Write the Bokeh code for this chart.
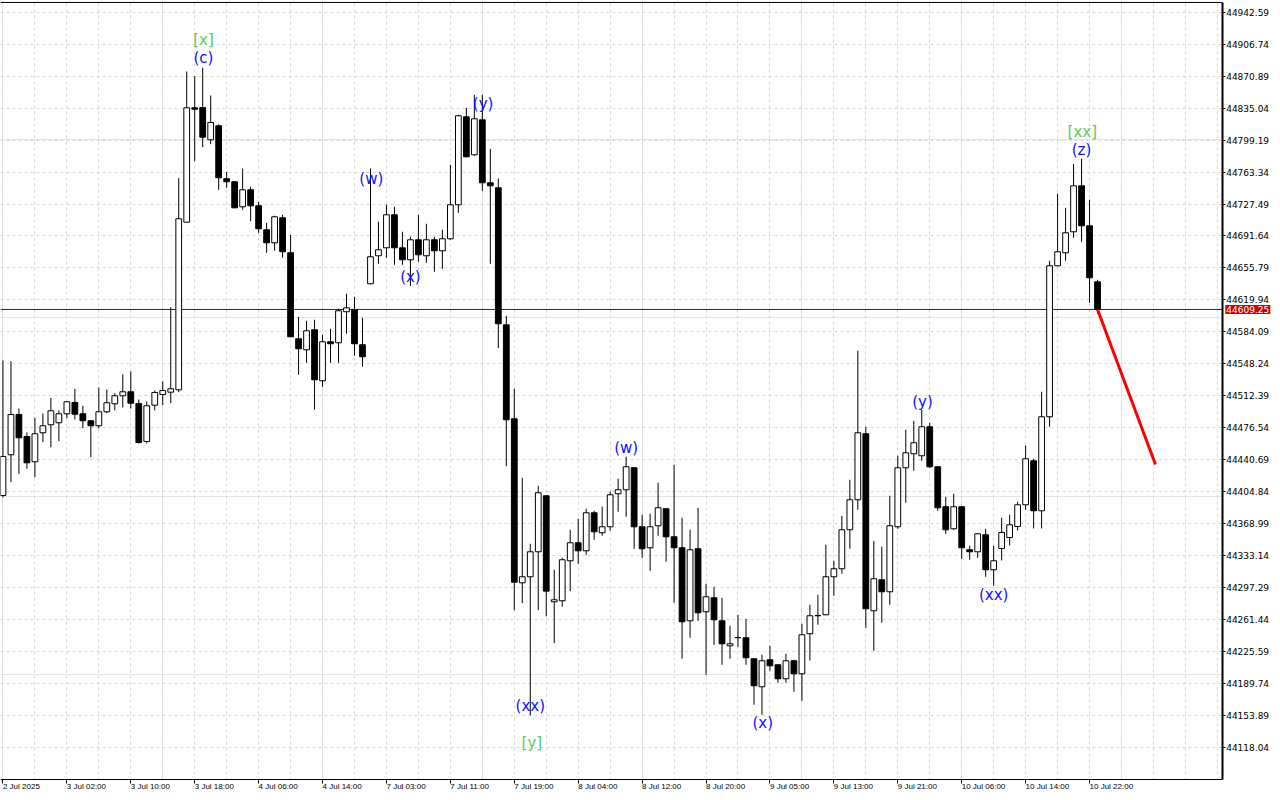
from bokeh.plotting import figure
from bokeh.models import (Range1d, FixedTicker, Label, ColumnDataSource,
                          NumeralTickFormatter, LinearAxis, Grid)
from bokeh.core.properties import value
from bokeh.embed import file_html
from bokeh.resources import INLINE

# ---- hourly OHLC (US30-like index), 2 Jul 2025 .. 10 Jul 23:00 ----
opens = [
    44400.67, 44446.30, 44491.49, 44466.82, 44438.45, 44470.97, 44479.94, 44482.18, 44492.28, 44504.95,
    44492.28, 44484.43, 44478.82, 44494.52, 44503.49, 44512.46, 44516.95, 44503.83, 44461.22, 44501.92,
    44513.92, 44516.50, 44519.19, 44707.12, 44835.39, 44835.73, 44799.51, 44815.21, 44755.78, 44752.42,
    44724.39, 44743.45, 44725.51, 44698.60, 44684.02, 44712.05, 44672.81, 44576.37, 44564.04, 44586.47,
    44529.28, 44573.01, 44571.89, 44606.65, 44608.89, 44569.65, 44638.05, 44669.44, 44678.41, 44715.41,
    44678.41, 44664.96, 44687.38, 44669.44, 44687.38, 44675.05, 44688.50, 44726.63, 44825.30, 44782.69,
    44821.94, 44751.30, 44745.69, 44592.07, 44486.67, 44302.78, 44309.51, 44337.54, 44400.33, 44281.47,
    44282.59, 44327.45, 44347.63, 44338.66, 44381.27, 44358.84, 44365.57, 44402.57, 44407.06, 44431.73,
    44365.57, 44342.02, 44366.69, 44385.75, 44354.36, 44342.02, 44260.17, 44340.90, 44270.26, 44285.96,
    44260.17, 44232.13, 44241.11, 44241.11, 44217.56, 44186.16, 44216.44, 44210.83, 44195.13, 44215.31,
    44200.74, 44245.59, 44265.77, 44266.90, 44309.51, 44318.47, 44362.21, 44395.85, 44469.85, 44271.38,
    44306.14, 44292.68, 44365.57, 44431.73, 44447.42, 44445.18, 44477.70, 44432.85, 44388.00, 44363.33,
    44388.00, 44339.78, 44337.54, 44356.60, 44317.35, 44341.24, 44353.57, 44365.91, 44390.24, 44439.58,
    44383.51, 44488.91, 44658.23, 44672.81, 44696.35, 44747.93, 44703.08, 44640.29,
]
highs = [
    44552.04, 44551.26, 44498.22, 44471.31, 44487.79, 44492.61, 44510.22, 44495.98, 44506.50, 44520.31,
    44501.25, 44485.00, 44521.77, 44519.52, 44515.38, 44536.34, 44539.71, 44508.31, 44506.07, 44518.40,
    44528.49, 44611.81, 44756.45, 44876.10, 44870.83, 44880.25, 44849.19, 44816.67, 44763.63, 44753.00,
    44767.33, 44746.81, 44729.99, 44706.45, 44714.29, 44715.41, 44692.99, 44601.04, 44596.56, 44597.68,
    44580.86, 44587.58, 44610.01, 44626.83, 44623.47, 44599.92, 44767.33, 44707.57, 44726.63, 44724.39,
    44696.35, 44690.75, 44715.41, 44705.32, 44690.75, 44698.60, 44771.48, 44827.55, 44835.39, 44849.97,
    44849.97, 44789.42, 44756.12, 44602.16, 44520.31, 44420.51, 44346.51, 44411.54, 44400.80, 44317.35,
    44330.81, 44362.21, 44374.54, 44385.75, 44383.51, 44388.00, 44404.81, 44419.39, 44444.06, 44432.20,
    44379.03, 44380.15, 44414.91, 44386.20, 44435.09, 44375.66, 44362.21, 44386.87, 44301.66, 44298.29,
    44285.96, 44254.56, 44266.89, 44262.41, 44218.00, 44222.04, 44232.13, 44211.30, 44223.16, 44216.44,
    44256.80, 44278.11, 44289.32, 44345.39, 44327.45, 44377.90, 44418.27, 44562.92, 44477.70, 44349.87,
    44343.14, 44400.33, 44445.18, 44474.34, 44484.43, 44496.76, 44482.18, 44433.30, 44399.21, 44402.57,
    44388.50, 44344.27, 44358.20, 44363.33, 44344.27, 44375.66, 44379.03, 44393.60, 44456.73, 44441.82,
    44516.95, 44663.84, 44738.96, 44723.26, 44772.60, 44778.21, 44732.24, 44642.53,
]
lows = [
    44398.42, 44415.58, 44425.00, 44430.60, 44421.19, 44460.43, 44454.82, 44461.55, 44487.34, 44485.89,
    44476.13, 44443.61, 44475.79, 44492.95, 44495.98, 44499.34, 44498.22, 44458.97, 44458.97, 44495.98,
    44501.92, 44504.16, 44516.50, 44706.60, 44775.52, 44791.22, 44794.58, 44743.45, 44745.69, 44722.80,
    44721.02, 44708.24, 44695.23, 44672.81, 44675.05, 44667.20, 44578.10, 44536.01, 44549.46, 44496.76,
    44522.55, 44549.46, 44549.46, 44581.98, 44557.31, 44544.98, 44637.50, 44660.47, 44667.20, 44659.35,
    44659.35, 44635.80, 44662.71, 44661.59, 44651.50, 44654.86, 44687.50, 44717.66, 44780.00, 44781.57,
    44742.33, 44660.47, 44565.83, 44433.52, 44272.05, 44279.90, 44153.98, 44272.05, 44265.33, 44235.05,
    44275.87, 44293.36, 44324.08, 44334.18, 44350.99, 44355.48, 44361.08, 44382.39, 44376.78, 44340.90,
    44330.81, 44316.23, 44355.48, 44326.32, 44280.35, 44217.56, 44241.11, 44260.17, 44199.62, 44233.25,
    44210.83, 44217.56, 44231.01, 44210.83, 44165.98, 44154.77, 44204.10, 44190.64, 44190.64, 44180.56,
    44170.46, 44215.65, 44255.68, 44266.40, 44288.20, 44312.86, 44340.90, 44384.63, 44252.32, 44226.53,
    44257.93, 44278.11, 44363.33, 44392.48, 44428.36, 44439.58, 44431.73, 44383.51, 44357.71, 44362.21,
    44329.69, 44328.57, 44330.81, 44309.51, 44299.41, 44327.78, 44344.60, 44361.42, 44384.63, 44363.66,
    44363.66, 44477.70, 44657.70, 44663.84, 44689.63, 44685.14, 44616.74, 44604.41,
]
closes = [
    44444.40, 44491.49, 44465.37, 44437.33, 44469.85, 44478.82, 44495.64, 44492.28, 44505.73, 44491.83,
    44484.43, 44478.82, 44494.52, 44504.61, 44512.46, 44516.95, 44504.16, 44460.10, 44501.25, 44516.16,
    44518.40, 44520.31, 44710.93, 44835.39, 44833.82, 44802.43, 44818.91, 44756.90, 44752.42, 44723.26,
    44743.45, 44725.51, 44699.72, 44684.02, 44713.17, 44673.93, 44578.62, 44565.16, 44585.34, 44530.40,
    44573.01, 44570.77, 44607.77, 44611.13, 44570.77, 44556.19, 44668.32, 44676.17, 44715.41, 44678.41,
    44664.96, 44687.38, 44670.56, 44687.38, 44675.05, 44688.50, 44726.63, 44826.42, 44780.45, 44823.06,
    44751.30, 44747.93, 44593.19, 44485.55, 44303.45, 44309.51, 44337.54, 44403.69, 44293.36, 44283.71,
    44328.57, 44347.63, 44338.66, 44381.27, 44359.96, 44365.57, 44401.45, 44407.06, 44432.85, 44365.57,
    44340.90, 44365.57, 44386.87, 44354.36, 44342.02, 44259.05, 44339.78, 44269.14, 44287.08, 44261.29,
    44234.38, 44234.38, 44241.40, 44218.68, 44187.28, 44215.31, 44209.71, 44195.13, 44215.31, 44200.74,
    44244.47, 44265.77, 44266.11, 44309.51, 44318.47, 44362.21, 44395.85, 44470.97, 44273.62, 44307.26,
    44292.68, 44366.69, 44431.73, 44448.55, 44459.76, 44477.70, 44432.85, 44386.87, 44362.21, 44388.00,
    44342.02, 44337.54, 44357.72, 44317.35, 44327.45, 44359.18, 44367.81, 44390.24, 44441.82, 44383.51,
    44488.91, 44658.23, 44673.93, 44695.23, 44747.93, 44703.08, 44644.77, 44609.25,
]

date_tick_idx = [0, 8, 16, 24, 32, 40, 48, 56, 64, 72, 80, 88, 96, 104, 112, 120, 128, 136]
date_labels = ["2 Jul 2025", "3 Jul 02:00", "3 Jul 10:00", "3 Jul 18:00", "4 Jul 06:00",
               "4 Jul 14:00", "7 Jul 03:00", "7 Jul 11:00", "7 Jul 19:00", "8 Jul 04:00",
               "8 Jul 12:00", "8 Jul 20:00", "9 Jul 05:00", "9 Jul 13:00", "9 Jul 21:00",
               "10 Jul 06:00", "10 Jul 14:00", "10 Jul 22:00"]

price_ticks = [44118.04, 44153.89, 44189.74, 44225.59, 44261.44, 44297.29, 44333.14, 44368.99,
               44404.84, 44440.69, 44476.54, 44512.39, 44548.24, 44584.09, 44619.94, 44655.79,
               44691.64, 44727.49, 44763.34, 44799.19, 44835.04, 44870.89, 44906.74, 44942.59]

current_price = 44609.25

# forecast (red) line
projection_idx = [137, 144.25]
projection_price = [44609.25, 44435.4]

# Elliott-wave annotations
wave_text = ["[x]", "(c)", "(w)", "(x)", "(y)", "(xx)", "[y]", "(w)", "(x)", "(y)", "(xx)", "[xx]", "(z)"]
wave_idx = [25.1, 25.1, 46.1, 51.0, 60.1, 66.0, 66.2, 78.0, 95.1, 115.1, 124.0, 135.1, 135.0]
wave_price = [44910.9, 44890.7, 44756.1, 44645.1, 44839.1, 44164.1, 44122.6, 44453.4, 44145.0,
              44506.0, 44289.6, 44808.8, 44787.5]
wave_degree = ["major", "minor", "minor", "minor", "minor", "minor", "major", "minor", "minor",
               "minor", "minor", "major", "minor"]

GREEN = "#5acd5a"
BLUE = "#1010ff"

# chart window geometry (data units): candle index across, price up
X_LEFT, X_AXIS, X_RIGHT = -0.307, 152.6, 158.9
Y_BOTTOM, Y_AXIS, Y_TOP_LINE, Y_TOP = 44067.6, 44082.2, 44953.5, 44955.7
Y_DATE_TEXT = 44073.8

idx = list(range(len(opens)))
tops = [max(o, c) for o, c in zip(opens, closes)]
bottoms = [min(o, c) for o, c in zip(opens, closes)]
fills = ["white" if c >= o else "black" for o, c in zip(opens, closes)]
src = ColumnDataSource(dict(i=idx, high=highs, low=lows, top=tops, bottom=bottoms, fill=fills))

p = figure(width=1272, height=792, output_backend="svg", toolbar_location=None,
           x_range=Range1d(X_LEFT, X_RIGHT), y_range=Range1d(Y_BOTTOM, Y_TOP),
           x_axis_location=None, y_axis_location=None, min_border=0)
p.outline_line_color = None
p.background_fill_color = "white"
p.border_fill_color = "white"

# grid (dashed light grey)
xg = Grid(dimension=0, ticker=FixedTicker(ticks=list(range(0, 160, 4))),
          grid_line_color="#d9d9d9", grid_line_dash="3 3", grid_line_width=1)
yg = Grid(dimension=1, ticker=FixedTicker(ticks=price_ticks),
          grid_line_color="#d9d9d9", grid_line_dash="3 3", grid_line_width=1)
p.add_layout(xg)
p.add_layout(yg)

# keep the margins (price scale / time scale area) clean of grid
p.quad(left=[X_AXIS], right=[X_RIGHT], bottom=[Y_BOTTOM], top=[Y_TOP],
       fill_color="white", line_color=None)
p.quad(left=[X_LEFT], right=[X_RIGHT], bottom=[Y_BOTTOM], top=[Y_AXIS],
       fill_color="white", line_color=None)
# top frame border
p.segment(x0=[X_LEFT], y0=[Y_TOP_LINE], x1=[X_AXIS], y1=[Y_TOP_LINE], line_color="black", line_width=1)

# current price line
p.segment(x0=[X_LEFT], y0=[current_price], x1=[X_AXIS], y1=[current_price],
          line_color="#8b0000", line_width=1)

# candles
p.segment(x0="i", y0="low", x1="i", y1="high", source=src, line_color="black", line_width=1)
p.vbar(x="i", width=0.72, top="top", bottom="bottom", fill_color="fill",
       line_color="black", line_width=1, source=src)

# forecast line
p.line(projection_idx, projection_price, line_color="#ff0000", line_width=3)

# wave labels
wcol = [GREEN if d == "major" else BLUE for d in wave_degree]
p.text(x=wave_idx, y=wave_price, text=wave_text, text_color=wcol,
       text_font=value("DejaVu Sans"), text_font_size="15px",
       text_align="center", text_baseline="middle")

# price scale on the right (fixed inside the window)
ya = LinearAxis(fixed_location=X_AXIS, ticker=FixedTicker(ticks=price_ticks),
                formatter=NumeralTickFormatter(format="0.00"), bounds=(Y_AXIS, Y_TOP_LINE))
ya.major_label_text_font = "DejaVu Sans"
ya.major_label_text_font_size = "9px"
ya.major_label_text_color = "black"
ya.major_label_standoff = 1
ya.major_tick_in = 0
ya.major_tick_out = 3
ya.minor_tick_line_color = None
ya.axis_line_color = "black"
ya.axis_line_width = 2
p.add_layout(ya, "right")

# time scale at the bottom (ticks; labels left-aligned as text annotations)
xa = LinearAxis(fixed_location=Y_AXIS, ticker=FixedTicker(ticks=date_tick_idx), bounds=(X_LEFT, X_AXIS))
xa.major_label_text_color = None
xa.major_tick_in = 0
xa.major_tick_out = 4
xa.minor_tick_line_color = None
xa.axis_line_color = "black"
xa.axis_line_width = 1
p.add_layout(xa, "below")

for t, lbl in zip(date_tick_idx, date_labels):
    p.add_layout(Label(x=t, y=Y_DATE_TEXT, text=lbl, text_font="Liberation Sans",
                       text_font_size="8px", text_align="left", text_baseline="middle",
                       text_color="black"))

# current price tag on the price scale
p.add_layout(Label(x=X_AXIS + 0.4, y=current_price, text="44609.25", text_font="DejaVu Sans",
                   text_font_size="9px", text_color="white", text_align="left",
                   text_baseline="middle", background_fill_color="#d40000", padding=1))

open("out.html", "w").write(file_html(p, INLINE))
